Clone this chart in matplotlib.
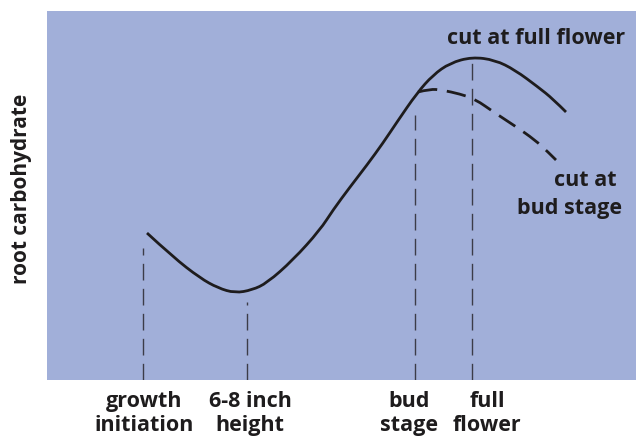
import matplotlib
matplotlib.use("Agg")
import matplotlib.pyplot as plt
from matplotlib.path import Path
from matplotlib.patches import PathPatch

# Values (x = growth stage position, y = root carbohydrate level)
full_x = [147, 173, 200, 218, 235, 252, 267, 293, 320, 333, 350, 367, 383, 397,
          417, 433, 450, 472, 495, 515, 538, 553, 566]
full_y = [147, 123, 102, 92, 87, 90, 97, 120, 150, 170, 193, 215, 237, 258,
          287, 305, 317, 323, 320, 310, 293, 281, 268]

bud_x = [418, 430, 442, 460, 475, 495, 515, 535, 548, 556]
bud_y = [288, 291, 290, 286, 281, 267, 254, 240, 228, 220]

stage_labels = ["growth\ninitiation", "6-8 inch\nheight", "bud\nstage", "full\nflower"]
stage_x = [143, 247, 415, 472]
stage_top = [132, 78, 265, 322]
label_x = [144, 250, 409, 487]

BG = "#a1afd9"
INK = "#1e1c1d"
FONT = ["Open Sans", "DejaVu Sans"]


def smooth_path(xs, ys):
    # quadratic bezier through midpoints, the read points act as control points
    pts = list(zip(xs, ys))
    verts = [pts[0]]
    codes = [Path.MOVETO]
    for i in range(1, len(pts) - 1):
        mid = ((pts[i][0] + pts[i + 1][0]) / 2, (pts[i][1] + pts[i + 1][1]) / 2)
        if i == len(pts) - 2:
            mid = pts[-1]
        verts += [pts[i], mid]
        codes += [Path.CURVE3, Path.CURVE3]
    return Path(verts, codes)


fig = plt.figure(figsize=(6.36, 4.4), dpi=100)
ax = fig.add_axes([47 / 636, 60 / 440, 589 / 636, 369 / 440])
ax.set_facecolor(BG)
ax.set_xlim(47, 636)
ax.set_ylim(0, 369)
for s in ax.spines.values():
    s.set_visible(False)
ax.set_xticks([])
ax.set_yticks([])

# vertical dashed markers
for x, top in zip(stage_x, stage_top):
    ax.plot([x, x], [0, top], color="#3c3c48", lw=1.0, dashes=(12, 6))

ax.add_patch(PathPatch(smooth_path(full_x, full_y), facecolor="none",
                       edgecolor=INK, lw=2.0, capstyle="butt"))
ax.add_patch(PathPatch(smooth_path(bud_x, bud_y), facecolor="none",
                       edgecolor=INK, lw=2.0, linestyle=(0, (7, 3.5))))

ax.text(536, 342, "cut at full flower", ha="center", va="center",
        fontsize=15.5, fontweight="bold", family=FONT, color=INK)
ax.text(617, 200, "cut at", ha="right", va="center",
        fontsize=15.5, fontweight="bold", family=FONT, color=INK)
ax.text(622, 172, "bud stage", ha="right", va="center",
        fontsize=15.5, fontweight="bold", family=FONT, color=INK)

for lx, lab in zip(label_x, stage_labels):
    ax.text(lx, -11, lab, ha="center", va="top", fontsize=15.5, fontweight="bold",
            family=FONT, color=INK, linespacing=1.2)

fig.text(22 / 636, 1 - 189 / 440, "root carbohydrate", rotation=90, ha="center",
         va="center", fontsize=15, fontweight="bold", family=FONT, color=INK)

fig.savefig("out.png", dpi=100)
